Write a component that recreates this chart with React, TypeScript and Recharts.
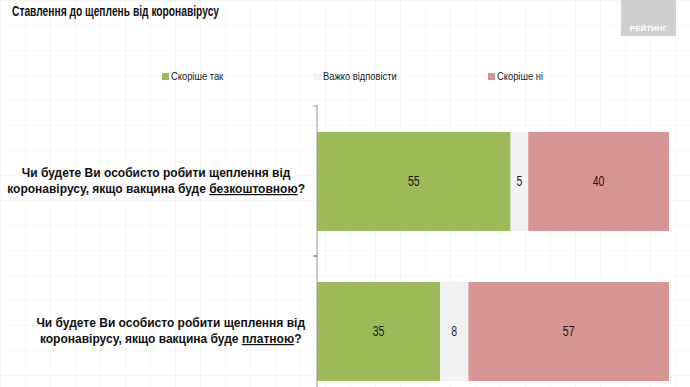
import { BarChart, Bar, XAxis, YAxis, LabelList } from 'recharts';

const categories = ['безкоштовною', 'платною'];
const questionStart = 'Чи будете Ви особисто робити щеплення від';
const questionEnd = 'коронавірусу, якщо вакцина буде ';
const yesValues = [55, 35];
const hardValues = [5, 8];
const noValues = [40, 57];
const seriesNames = ['Скоріше так', 'Важко відповісти', 'Скоріше ні'];
const seriesColors = ['#9bbb59', '#f2f2f2', '#d99594'];
const legendLeft = [162, 314, 488];

const FONT = '"Liberation Sans", Arial, sans-serif';

const data = categories.map((c, i) => ({
  name: c,
  yes: yesValues[i],
  hard: hardValues[i],
  no: noValues[i],
}));

function measure(text: string, font: string) {
  const canvas = document.createElement('canvas');
  const ctx = canvas.getContext('2d');
  if (!ctx) return text.length * 6;
  ctx.font = font;
  return ctx.measureText(text).width;
}

function CategoryTick(props: any) {
  const { x, y, payload } = props;
  const word: string = payload.value;
  const font = `bold 12px ${FONT}`;
  const w1 = measure(questionStart, font);
  const w2 = measure(questionEnd + word + '?', font);
  const right = x - 4;
  const cx = right - Math.max(w1, w2) / 2;
  return (
    <g>
      <line x1={x + 4} x2={x + 9} y1={y - 75} y2={y - 75} stroke="#999" />
      <line x1={x + 4} x2={x + 9} y1={y + 75} y2={y + 75} stroke="#999" />
      <text x={cx} y={y - 4} textAnchor="middle" fontFamily={FONT} fontWeight="bold" fontSize={12} fill="#111">
        {questionStart}
      </text>
      <text x={cx} y={y + 12} textAnchor="middle" fontFamily={FONT} fontWeight="bold" fontSize={12} fill="#111">
        {questionEnd}
        <tspan textDecoration="underline">{word}</tspan>?
      </text>
    </g>
  );
}

function ValueLabel(props: any) {
  const { x, y, width, height, value } = props;
  const cx = x + width / 2;
  const cy = y + height / 2;
  return (
    <text
      transform={`translate(${cx},${cy}) scale(0.75,1)`}
      textAnchor="middle"
      dominantBaseline="central"
      fontFamily={FONT}
      fontSize={14}
      fill="#1a1a1a"
    >
      {value}
    </text>
  );
}

export default function App() {
  return (
    <div
      style={{
        position: 'absolute',
        left: 0,
        top: 0,
        width: 690,
        height: 387,
        overflow: 'hidden',
        background: '#fff',
        backgroundImage:
          'linear-gradient(rgba(0,0,0,0.03) 1px, transparent 1px), linear-gradient(90deg, rgba(0,0,0,0.03) 1px, transparent 1px)',
        backgroundSize: '25px 25px',
      }}
    >
      <div
        style={{
          position: 'absolute',
          left: 12,
          top: 2,
          fontFamily: FONT,
          fontWeight: 'bold',
          fontSize: 15.5,
          color: '#111',
          whiteSpace: 'nowrap',
          transform: 'scaleX(0.66)',
          transformOrigin: 'left top',
        }}
      >
        Ставлення до щеплень від коронавірусу
      </div>
      <div
        style={{
          position: 'absolute',
          left: 621,
          top: 0,
          width: 55,
          height: 36,
          background: '#cfcfcf',
          color: '#fff',
          fontFamily: FONT,
          fontWeight: 'bold',
          fontSize: 8,
          textAlign: 'center',
          lineHeight: '10px',
          paddingTop: 24,
          boxSizing: 'border-box',
        }}
      >
        РЕЙТИНГ
      </div>
      {seriesNames.map((n, i) => (
        <div
          key={n}
          style={{
            position: 'absolute',
            left: legendLeft[i],
            top: 69,
            display: 'flex',
            alignItems: 'center',
            fontFamily: FONT,
            fontSize: 11,
            lineHeight: '14px',
            color: '#222',
            whiteSpace: 'nowrap',
          }}
        >
          <span style={{ width: 7, height: 7, background: seriesColors[i], marginRight: 2, display: 'inline-block' }} />
          <span style={{ display: 'inline-block', transform: 'scaleX(0.85)', transformOrigin: 'left center' }}>{n}</span>
        </div>
      ))}
      <div style={{ position: 'absolute', left: 0, top: 0 }}>
        <BarChart
          width={690}
          height={420}
          data={data}
          layout="vertical"
          margin={{ top: 106, right: 21, bottom: 14, left: 0 }}
        >
          <XAxis type="number" domain={[0, 100]} hide />
          <YAxis
            type="category"
            dataKey="name"
            width={317}
            axisLine={{ stroke: '#999' }}
            tickLine={false}
            tick={<CategoryTick />}
          />
          <Bar dataKey="yes" stackId="a" fill={seriesColors[0]} barSize={99} isAnimationActive={false}>
            <LabelList dataKey="yes" content={<ValueLabel />} />
          </Bar>
          <Bar dataKey="hard" stackId="a" fill={seriesColors[1]} barSize={99} isAnimationActive={false}>
            <LabelList dataKey="hard" content={<ValueLabel />} />
          </Bar>
          <Bar dataKey="no" stackId="a" fill={seriesColors[2]} barSize={99} isAnimationActive={false}>
            <LabelList dataKey="no" content={<ValueLabel />} />
          </Bar>
        </BarChart>
      </div>
    </div>
  );
}
